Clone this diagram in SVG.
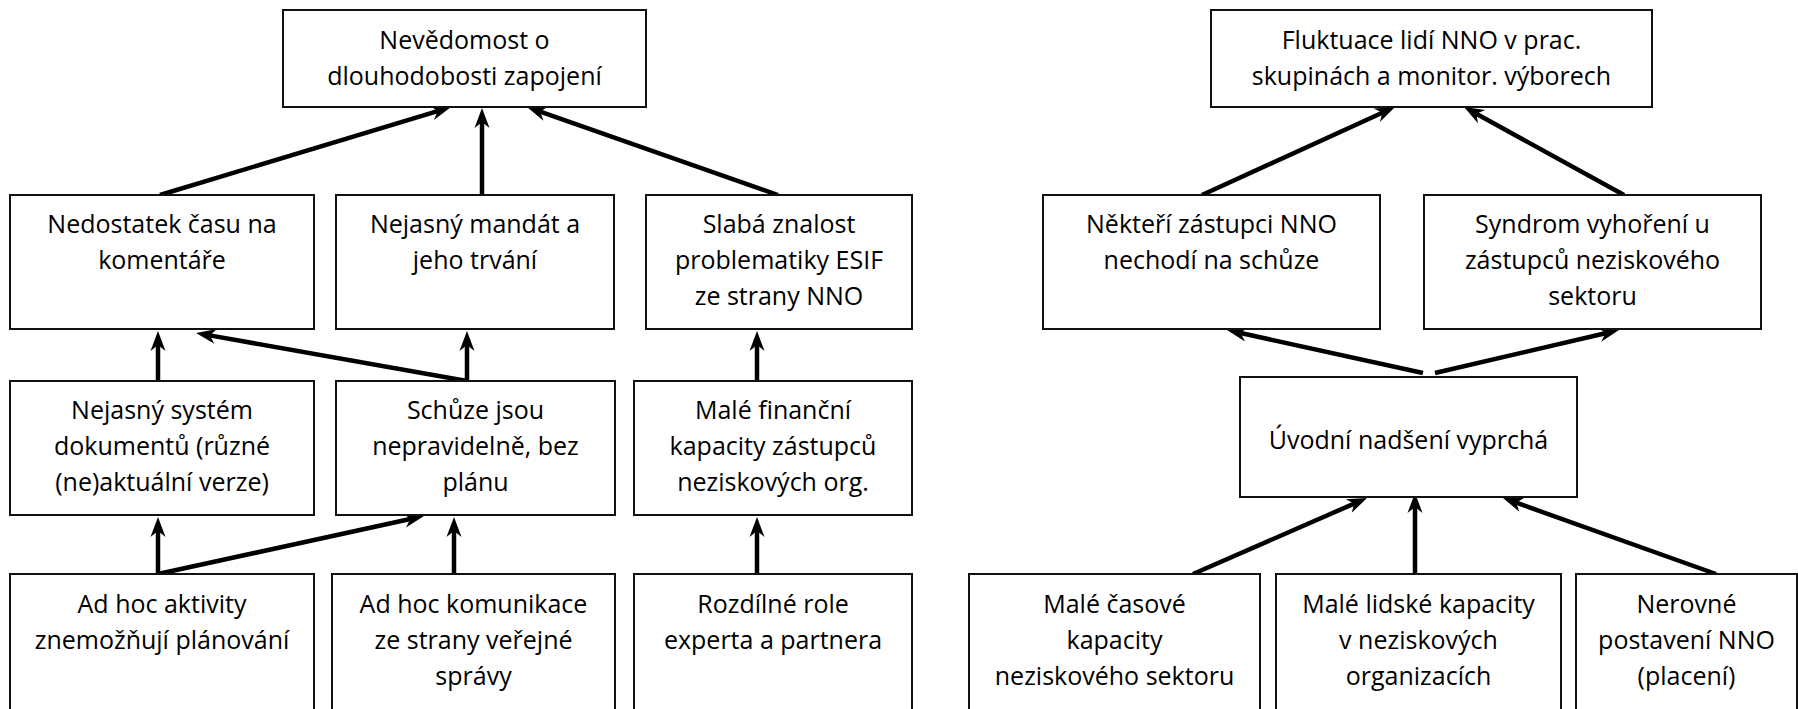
<svg xmlns="http://www.w3.org/2000/svg" width="1798" height="709" viewBox="0 0 1798 709">
  <style>
    .box { fill: #ffffff; stroke: #111111; stroke-width: 2; }
    .lbl { font-family: "Open Sans", "Liberation Sans", sans-serif; font-size: 25px; fill: #000000; text-anchor: middle; }
    .edge { stroke: #000000; stroke-width: 4.5; fill: none; marker-end: url(#head); }
  </style>
  <defs>
    <!-- notched arrowhead; the line ends at the notch, the tip sits 14px further on -->
    <marker id="head" markerUnits="userSpaceOnUse" orient="auto" overflow="visible" refX="0" refY="0" markerWidth="24" markerHeight="18" viewBox="-7 -9 24 18">
      <path d="M14,0 L-6,-7.5 L0,0 L-6,7.5 Z" fill="#000000"/>
    </marker>
  </defs>

  <rect width="1798" height="709" fill="#ffffff"/>

  <!-- connectors -->
  <g id="connectors">
    <!-- left tree -->
    <line class="edge" x1="160" y1="195" x2="437.6" y2="111.1"/>
    <line class="edge" x1="482" y1="195" x2="482" y2="122"/>
    <line class="edge" x1="778" y1="195" x2="540.2" y2="111.6"/>
    <line class="edge" x1="158" y1="381" x2="158" y2="345"/>
    <line class="edge" x1="467" y1="381" x2="209.8" y2="335.4"/>
    <line class="edge" x1="467" y1="381" x2="467" y2="345"/>
    <line class="edge" x1="757" y1="381" x2="757" y2="345"/>
    <line class="edge" x1="158" y1="574" x2="158" y2="531"/>
    <line class="edge" x1="158" y1="574" x2="410.3" y2="519"/>
    <line class="edge" x1="454" y1="574" x2="454" y2="531"/>
    <line class="edge" x1="757" y1="574" x2="757" y2="531"/>
    <!-- right tree -->
    <line class="edge" x1="1202" y1="195" x2="1382.3" y2="112.8"/>
    <line class="edge" x1="1624" y1="195" x2="1476.3" y2="113.7"/>
    <line class="edge" x1="1423" y1="373" x2="1240.7" y2="333"/>
    <line class="edge" x1="1435" y1="373" x2="1605.4" y2="333.2"/>
    <line class="edge" x1="1193" y1="574" x2="1354.2" y2="503.6"/>
    <line class="edge" x1="1415" y1="574" x2="1415" y2="507"/>
    <line class="edge" x1="1716" y1="574" x2="1516.2" y2="502.7"/>
  </g>

  <!-- left tree nodes -->
  <g id="n-nevedomost">
    <rect class="box" x="283" y="10" width="363" height="97"/>
    <text class="lbl"><tspan x="464.5" y="49">Nevědomost o</tspan><tspan x="464.5" y="85">dlouhodobosti zapojení</tspan></text>
  </g>
  <g id="n-nedostatek-casu">
    <rect class="box" x="10" y="195" width="304" height="134"/>
    <text class="lbl"><tspan x="162" y="233">Nedostatek času na</tspan><tspan x="162" y="269">komentáře</tspan></text>
  </g>
  <g id="n-nejasny-mandat">
    <rect class="box" x="336" y="195" width="278" height="134"/>
    <text class="lbl"><tspan x="475" y="233">Nejasný mandát a</tspan><tspan x="475" y="269">jeho trvání</tspan></text>
  </g>
  <g id="n-slaba-znalost">
    <rect class="box" x="646" y="195" width="266" height="134"/>
    <text class="lbl"><tspan x="779" y="233">Slabá znalost</tspan><tspan x="779" y="269">problematiky ESIF</tspan><tspan x="779" y="305">ze strany NNO</tspan></text>
  </g>
  <g id="n-nejasny-system">
    <rect class="box" x="10" y="381" width="304" height="134"/>
    <text class="lbl"><tspan x="162" y="419">Nejasný systém</tspan><tspan x="162" y="455">dokumentů (různé</tspan><tspan x="162" y="491">(ne)aktuální verze)</tspan></text>
  </g>
  <g id="n-schuze">
    <rect class="box" x="336" y="381" width="279" height="134"/>
    <text class="lbl"><tspan x="475.5" y="419">Schůze jsou</tspan><tspan x="475.5" y="455">nepravidelně, bez</tspan><tspan x="475.5" y="491">plánu</tspan></text>
  </g>
  <g id="n-male-financni">
    <rect class="box" x="634" y="381" width="278" height="134"/>
    <text class="lbl"><tspan x="773" y="419">Malé finanční</tspan><tspan x="773" y="455">kapacity zástupců</tspan><tspan x="773" y="491">neziskových org.</tspan></text>
  </g>
  <g id="n-adhoc-aktivity">
    <rect class="box" x="10" y="574" width="304" height="150"/>
    <text class="lbl"><tspan x="162" y="613">Ad hoc aktivity</tspan><tspan x="162" y="649">znemožňují plánování</tspan></text>
  </g>
  <g id="n-adhoc-komunikace">
    <rect class="box" x="332" y="574" width="283" height="150"/>
    <text class="lbl"><tspan x="473.5" y="613">Ad hoc komunikace</tspan><tspan x="473.5" y="649">ze strany veřejné</tspan><tspan x="473.5" y="685">správy</tspan></text>
  </g>
  <g id="n-rozdilne-role">
    <rect class="box" x="634" y="574" width="278" height="150"/>
    <text class="lbl"><tspan x="773" y="613">Rozdílné role</tspan><tspan x="773" y="649">experta a partnera</tspan></text>
  </g>

  <!-- right tree nodes -->
  <g id="n-fluktuace">
    <rect class="box" x="1211" y="10" width="441" height="97"/>
    <text class="lbl"><tspan x="1431.5" y="49">Fluktuace lidí NNO v prac.</tspan><tspan x="1431.5" y="85">skupinách a monitor. výborech</tspan></text>
  </g>
  <g id="n-nekteri-zastupci">
    <rect class="box" x="1043" y="195" width="337" height="134"/>
    <text class="lbl"><tspan x="1211.5" y="233">Někteří zástupci NNO</tspan><tspan x="1211.5" y="269">nechodí na schůze</tspan></text>
  </g>
  <g id="n-syndrom">
    <rect class="box" x="1424" y="195" width="337" height="134"/>
    <text class="lbl"><tspan x="1592.5" y="233">Syndrom vyhoření u</tspan><tspan x="1592.5" y="269">zástupců neziskového</tspan><tspan x="1592.5" y="305">sektoru</tspan></text>
  </g>
  <g id="n-uvodni-nadseni">
    <rect class="box" x="1240" y="377" width="337" height="120"/>
    <text class="lbl"><tspan x="1408.5" y="449">Úvodní nadšení vyprchá</tspan></text>
  </g>
  <g id="n-male-casove">
    <rect class="box" x="969" y="574" width="291" height="150"/>
    <text class="lbl"><tspan x="1114.5" y="613">Malé časové</tspan><tspan x="1114.5" y="649">kapacity</tspan><tspan x="1114.5" y="685">neziskového sektoru</tspan></text>
  </g>
  <g id="n-male-lidske">
    <rect class="box" x="1276" y="574" width="285" height="150"/>
    <text class="lbl"><tspan x="1418.5" y="613">Malé lidské kapacity</tspan><tspan x="1418.5" y="649">v neziskových</tspan><tspan x="1418.5" y="685">organizacích</tspan></text>
  </g>
  <g id="n-nerovne">
    <rect class="box" x="1576" y="574" width="221" height="150"/>
    <text class="lbl"><tspan x="1686.5" y="613">Nerovné</tspan><tspan x="1686.5" y="649">postavení NNO</tspan><tspan x="1686.5" y="685">(placení)</tspan></text>
  </g>
</svg>
